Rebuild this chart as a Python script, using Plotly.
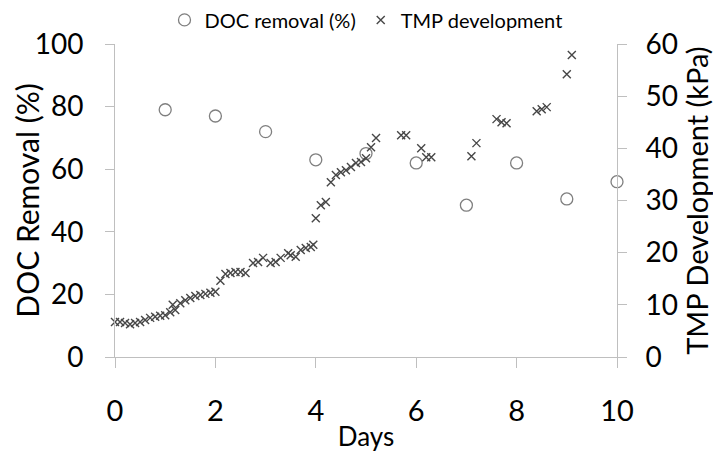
import plotly.graph_objects as go

# DOC removal (%) measured once a day
doc_days = [1, 2, 3, 4, 5, 6, 7, 8, 9, 10]
doc_removal = [79.0, 77.0, 72.0, 63.0, 65.0, 62.0, 48.5, 62.0, 50.5, 56.0]

# TMP development (kPa)
tmp_days = [0.0, 0.1, 0.2, 0.3, 0.4, 0.5, 0.6, 0.7, 0.8, 0.9, 1.0, 1.1, 1.15, 1.2,
            1.3, 1.4, 1.5, 1.6, 1.7, 1.8, 1.9, 2.0, 2.1, 2.2, 2.3, 2.4, 2.5, 2.6,
            2.75, 2.85, 2.95, 3.1, 3.2, 3.3, 3.45, 3.5, 3.6, 3.7, 3.8, 3.9, 3.95,
            4.0, 4.1, 4.2, 4.3, 4.4, 4.5, 4.6, 4.7, 4.8, 4.9, 5.0, 5.1, 5.2,
            5.7, 5.8, 6.1, 6.2, 6.3, 7.1, 7.2, 7.6, 7.7, 7.8, 8.4, 8.5, 8.6, 9.0, 9.1]
tmp_kpa = [6.7, 6.7, 6.5, 6.3, 6.5, 6.7, 7.1, 7.5, 7.7, 7.9, 8.0, 8.6, 10.0, 9.0,
           10.3, 10.9, 11.3, 11.7, 11.9, 12.1, 12.3, 12.5, 14.6, 15.9, 16.1, 16.3, 16.3, 16.1,
           18.0, 18.2, 19.0, 18.0, 18.2, 19.0, 19.9, 19.5, 19.2, 20.5, 20.9, 21.1, 21.5,
           26.6, 29.1, 29.7, 33.5, 34.9, 35.4, 35.8, 36.4, 37.2, 37.4, 38.1, 40.2, 42.0,
           42.5, 42.5, 40.0, 38.3, 38.3, 38.5, 41.0, 45.6, 45.0, 44.8, 47.1, 47.5, 47.9, 54.2, 57.9]

x_ticks = [0, 2, 4, 6, 8, 10]
left_ticks = [0, 20, 40, 60, 80, 100]
right_ticks = [0, 10, 20, 30, 40, 50, 60]

FONT = "Lato"
AXIS_GRAY = "#bfbfbf"

fig = go.Figure()
fig.add_trace(go.Scatter(
    x=doc_days, y=doc_removal, mode="markers", name="DOC removal (%)",
    marker=dict(symbol="circle-open", size=12, color="#7f7f7f", line=dict(width=1.3)),
    cliponaxis=False,
))
fig.add_trace(go.Scatter(
    x=tmp_days, y=tmp_kpa, mode="markers", name="TMP development", yaxis="y2",
    marker=dict(symbol="x-thin-open", size=8, color="#474747", line=dict(width=1.4)),
    cliponaxis=False,
))

# the page body has an 8px default margin, so the figure is sized to fit the window
fig.update_layout(
    width=713, height=447,
    margin=dict(l=107, r=104, t=36, b=98, autoexpand=False),
    paper_bgcolor="white", plot_bgcolor="white",
    font=dict(family=FONT, color="black"),
    showlegend=True,
    legend=dict(orientation="h", x=0.5, xanchor="center", y=1.077, yanchor="middle",
                font=dict(size=20, family=FONT), itemwidth=30,
                bgcolor="rgba(0,0,0,0)"),
    xaxis=dict(range=[0, 10], tickvals=x_ticks, ticks="outside", ticklen=10,
               tickcolor=AXIS_GRAY, showline=True, linecolor=AXIS_GRAY, linewidth=1,
               showgrid=False, zeroline=False, tickfont=dict(size=29),
               ticklabelstandoff=18, automargin=False,
               title=dict(text="Days", font=dict(size=26), standoff=2)),
    yaxis=dict(range=[0, 100], tickvals=left_ticks, ticks="outside", ticklen=9,
               tickcolor=AXIS_GRAY, showline=True, linecolor=AXIS_GRAY, linewidth=1,
               showgrid=False, zeroline=False, tickfont=dict(size=28),
               ticklabelstandoff=16, automargin=False),
    yaxis2=dict(range=[0, 60], tickvals=right_ticks, overlaying="y", side="right",
                ticks="outside", ticklen=9, tickcolor=AXIS_GRAY, showline=True,
                linecolor=AXIS_GRAY, linewidth=1, showgrid=False, zeroline=False,
                tickfont=dict(size=28), ticklabelstandoff=13, automargin=False),
    annotations=[
        dict(text="DOC Removal (%)", xref="paper", yref="paper", x=-0.177, y=0.5,
             xanchor="center", yanchor="middle", textangle=-90, showarrow=False,
             font=dict(size=30, family=FONT, color="black")),
        dict(text="TMP Development (kPa)", xref="paper", yref="paper", x=1.158, y=0.5,
             xanchor="center", yanchor="middle", textangle=-90, showarrow=False,
             font=dict(size=29, family=FONT, color="black")),
    ],
)

fig.write_html("out.html")
